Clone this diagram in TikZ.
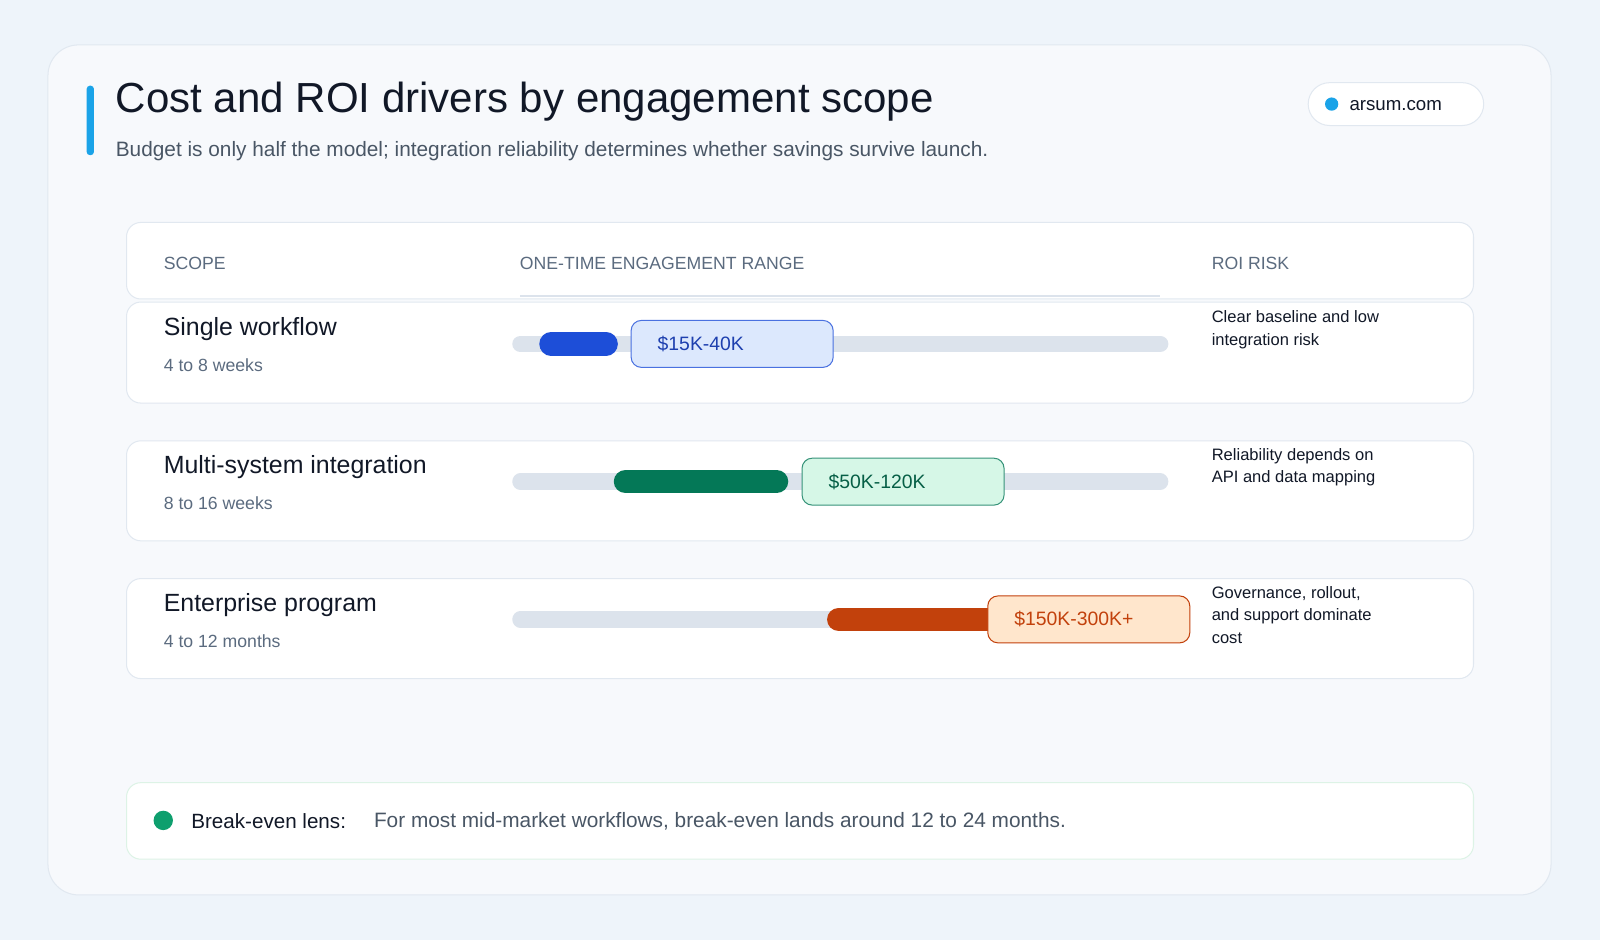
\documentclass[tikz,border=0pt]{standalone}
\usepackage{fontspec}
\setmainfont{Liberation Sans}
\usetikzlibrary{positioning}
\definecolor{pagebg}{HTML}{EEF4FA}
\definecolor{cardbg}{HTML}{F7F9FC}
\definecolor{cardline}{HTML}{E1E8F0}
\definecolor{ink}{HTML}{111827}
\definecolor{muted}{HTML}{5B6B7F}
\definecolor{accent}{HTML}{1AA3E8}
\definecolor{track}{HTML}{DCE3EC}
\definecolor{blueA}{HTML}{1D4ED8}
\definecolor{blueB}{HTML}{DCE8FD}
\definecolor{blueC}{HTML}{1E40AF}
\definecolor{greenA}{HTML}{047857}
\definecolor{greenB}{HTML}{D6F7E7}
\definecolor{greenC}{HTML}{065F46}
\definecolor{orangeA}{HTML}{C2410C}
\definecolor{orangeB}{HTML}{FFE6CC}
\definecolor{lensgreen}{HTML}{0E9F6E}
\definecolor{lensline}{HTML}{DDF3E6}
\tikzset{
  panel/.style={draw=cardline, fill=white, rounded corners=14pt, line width=1pt},
  head/.style={anchor=west, text=muted, font=\fontsize{17.3}{20}\selectfont},
  rowtitle/.style={anchor=west, text=ink, font=\fontsize{24.4}{28}\selectfont},
  rowsub/.style={anchor=west, text=muted, font=\fontsize{17.3}{20}\selectfont},
  risk/.style={anchor=north west, text=ink, align=left, font=\fontsize{16.2}{22}\selectfont},
  bar/.style={line cap=round, line width=#1},
  price/.style={rounded corners=10pt, line width=1pt, inner xsep=26pt, text width=146pt, align=left, minimum height=46pt, font=\fontsize{19}{22}\selectfont}
}
\begin{document}
\begin{tikzpicture}[x=1pt,y=-1pt]
\useasboundingbox (0,0) rectangle (1568,921);
\fill[pagebg] (0,0) rectangle (1568,921);
\draw[cardline, fill=cardbg, rounded corners=30pt, line width=1pt] (47,44) rectangle (1520,877);
% title block
\fill[accent, rounded corners=3pt] (85,84) rectangle (92,152);
\node[anchor=west, text=ink, font=\fontsize{41.2}{46}\selectfont] (title) at (110,100) {Cost and ROI drivers by engagement scope};
\node[anchor=west, text=muted!80!black, font=\fontsize{20.4}{23}\selectfont] (subtitle) at (110,148) {Budget is only half the model; integration reliability determines whether savings survive launch.};
\draw[cardline, fill=white, rounded corners=21pt, line width=1pt] (1282,81) rectangle (1454,123);
\fill[accent] (1305,102) circle (6.5);
\node[anchor=west, text=ink, font=\fontsize{18.3}{21}\selectfont] (site) at (1319,103) {arsum.com};
% header
\draw[panel] (124,218) rectangle (1444,293);
\node[head] (hscope) at (157,258) {SCOPE};
\node[head] (hrange) at (506,258) {ONE-TIME ENGAGEMENT RANGE};
\node[head] (hrisk) at (1184,258) {ROI RISK};
\draw[track, line width=1.2pt] (510,290) -- (1137,290);
% rows
\draw[panel] (124,296) rectangle (1444,395);
\draw[panel] (124,432) rectangle (1444,530);
\draw[panel] (124,567) rectangle (1444,665);
\node[rowtitle] (t1) at (157,322) {Single workflow};
\node[rowsub] (s1) at (157,358) {4 to 8 weeks};
\node[rowtitle] (t2) at (157,458) {Multi-system integration};
\node[rowsub] (s2) at (157,493) {8 to 16 weeks};
\node[rowtitle] (t3) at (157,593) {Enterprise program};
\node[rowsub] (s3) at (157,628) {4 to 12 months};
% ranges
\draw[track, bar=16pt] (510,337) -- (1137,337);
\draw[blueA, bar=23pt] (540,337) -- (594,337);
\node[price, draw=blueA!80, fill=blueB, text=blueC] (p1) at (717.5,337) {\$15K-40K};
\draw[track, bar=16pt] (510,472) -- (1137,472);
\draw[greenA, bar=23pt] (613,472) -- (761,472);
\node[price, draw=greenA!80, fill=greenB, text=greenC] (p2) at (885,472) {\$50K-120K};
\draw[track, bar=16pt] (510,607) -- (1137,607);
\draw[orangeA, bar=23pt] (822,607) -- (975,607);
\node[price, draw=orangeA, fill=orangeB, text=orangeA] (p3) at (1067,607) {\$150K-300K+};
% risk notes
\node[risk] (r1) at (1184,301) {Clear baseline and low\\integration risk};
\node[risk] (r2) at (1184,436) {Reliability depends on\\API and data mapping};
\node[risk] (r3) at (1184,571) {Governance, rollout,\\and support dominate\\cost};
% lens
\draw[lensline, fill=white, rounded corners=14pt, line width=1pt] (124,767) rectangle (1444,842);
\fill[lensgreen] (160,804) circle (9.5);
\node[anchor=west, text=ink, font=\fontsize{20.2}{24}\selectfont] (lens) at (184,805) {Break-even lens:};
\node[anchor=west, text=muted!80!black, font=\fontsize{20.4}{24}\selectfont] (lenstext) at (363,805) {For most mid-market workflows, break-even lands around 12 to 24 months.};
\end{tikzpicture}
\end{document}
